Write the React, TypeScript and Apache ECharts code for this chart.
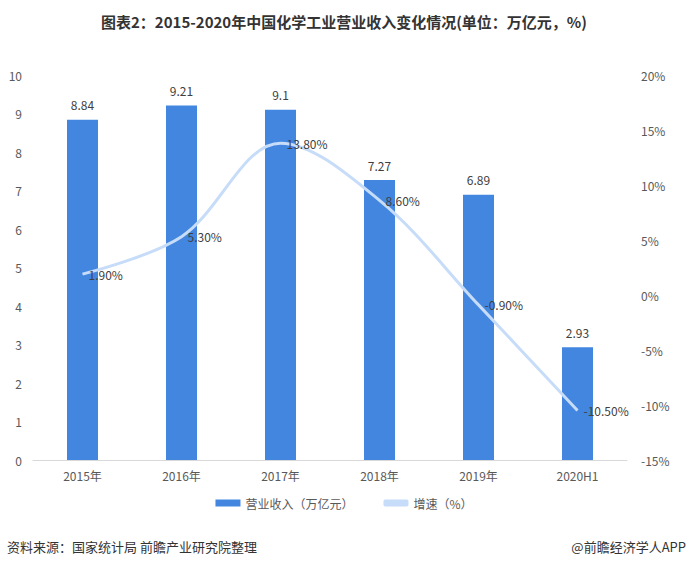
import React, { useEffect, useRef } from "react";
import * as echarts from "echarts";

const categories = ["2015年", "2016年", "2017年", "2018年", "2019年", "2020H1"];
const revenue = [8.84, 9.21, 9.1, 7.27, 6.89, 2.93];
const growth = [1.9, 5.3, 13.8, 8.6, -0.9, -10.5];

const FONT = "'Noto Sans CJK SC', 'Noto Sans', sans-serif";

export default function App() {
  const ref = useRef<HTMLDivElement>(null);
  useEffect(() => {
    if (!ref.current) return;
    const chart = echarts.init(ref.current, undefined, { renderer: "svg" });
    chart.setOption({
      animation: false,
      backgroundColor: "#ffffff",
      textStyle: { fontFamily: FONT },
      title: {
        text: "图表2：2015-2020年中国化学工业营业收入变化情况(单位：万亿元，%)",
        left: "center",
        top: 9,
        textStyle: { fontSize: 15, fontWeight: "bold", color: "#333333", fontFamily: FONT },
      },
      legend: {
        bottom: 55,
        left: "center",
        itemWidth: 25,
        itemHeight: 7,
        itemGap: 30,
        textStyle: { fontSize: 12, color: "#595959", fontFamily: FONT },
        data: [
          { name: "营业收入（万亿元）", icon: "rect" },
          { name: "增速（%）", icon: "roundRect" },
        ],
      },
      grid: { left: 33, right: 61, top: 75, bottom: 109 },
      xAxis: {
        type: "category",
        data: categories,
        axisLine: { lineStyle: { color: "#d9d9d9" } },
        axisTick: { show: false },
        axisLabel: { color: "#595959", fontSize: 12, margin: 9 },
      },
      yAxis: [
        {
          type: "value",
          min: 0,
          max: 10,
          interval: 1,
          splitLine: { show: false },
          axisLine: { show: false },
          axisTick: { show: false },
          axisLabel: { color: "#595959", fontSize: 12, margin: 11 },
        },
        {
          type: "value",
          min: -15,
          max: 20,
          interval: 5,
          splitLine: { show: false },
          axisLine: { show: false },
          axisTick: { show: false },
          axisLabel: { color: "#595959", fontSize: 12, margin: 14, formatter: "{value}%" },
        },
      ],
      series: [
        {
          name: "营业收入（万亿元）",
          type: "bar",
          data: revenue,
          barWidth: 31,
          itemStyle: { color: "#4286e0" },
          label: { show: true, position: "top", color: "#404040", fontSize: 12, distance: 9 },
        },
        {
          name: "增速（%）",
          type: "line",
          yAxisIndex: 1,
          data: growth,
          smooth: 0.35,
          showSymbol: true,
          symbol: "circle",
          symbolSize: 0,
          lineStyle: { color: "#c6dcf8", width: 3 },
          itemStyle: { color: "#c6dcf8" },
          label: {
            show: true,
            position: "right",
            color: "#404040",
            fontSize: 12,
            distance: 6,
            formatter: (p: any) => p.value.toFixed(2) + "%",
          },
        },
      ],
      graphic: [
        {
          type: "text",
          left: 7,
          top: 540,
          style: { text: "资料来源：国家统计局 前瞻产业研究院整理", fontSize: 13, fill: "#333333", fontFamily: FONT },
        },
        {
          type: "text",
          right: 2,
          top: 540,
          style: { text: "@前瞻经济学人APP", fontSize: 13, fill: "#333333", fontFamily: FONT },
        },
      ],
    });
    return () => chart.dispose();
  }, []);
  return <div ref={ref} style={{ width: 688, height: 569, position: "absolute", left: 0, top: 0 }} />;
}
